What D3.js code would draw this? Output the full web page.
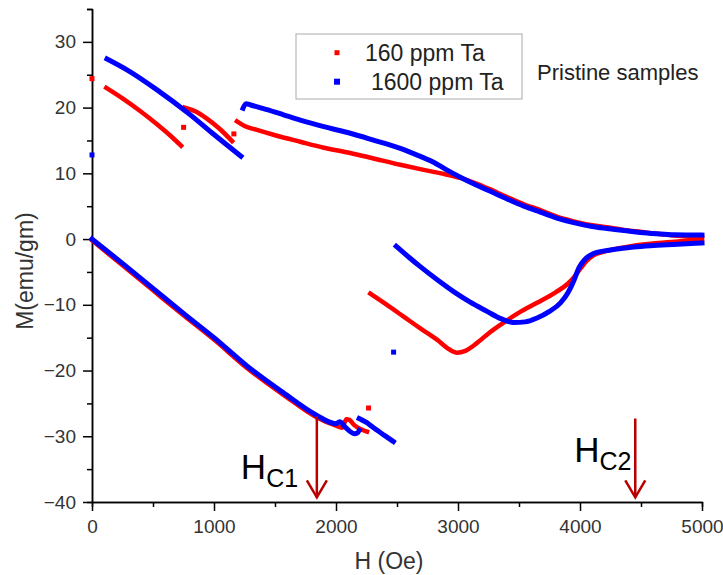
<!DOCTYPE html>
<html>
<head>
<meta charset="utf-8">
<script src="https://cdn.jsdelivr.net/npm/d3@7"></script>
<style>
    body { margin: 0; background: #fff; }
    text { font-family: "Liberation Sans", Arial, sans-serif; }
</style>
</head>
<body>
<div id="chart"></div>
<script>
// data: [H (Oe), M (emu/gm)]
var red160Upper1 = [[117, 23.0], [250, 21.4], [400, 19.4], [530, 17.5], [650, 15.6], [730, 14.2]];
var red160Upper2 = [[759, 20.0], [850, 19.4], [950, 18.2], [1050, 16.7], [1148, 14.9]];
var red160Upper3 = [[1188, 17.9], [1250, 17.2], [1352, 16.6], [1500, 15.8], [1707, 14.8], [1900, 13.9],
    [2117, 13.1], [2300, 12.3], [2527, 11.3], [2700, 10.6], [2860, 10.0], [3019, 9.3], [3128, 8.6],
    [3260, 7.6], [3402, 6.4], [3540, 5.3], [3675, 4.4], [3810, 3.4], [3948, 2.7], [4100, 2.1],
    [4221, 1.8], [4360, 1.4], [4494, 1.1], [4630, 0.8], [4767, 0.55], [4900, 0.35], [5000, 0.2]];
var red160Lower = [[0, -0.2], [250, -4.0], [500, -7.8], [750, -11.6], [1000, -15.3], [1270, -19.6],
    [1570, -23.7], [1840, -27.1], [2000, -28.4], [2050, -28.7], [2085, -27.4], [2110, -27.5],
    [2150, -28.3], [2200, -28.9], [2254, -29.3]];
var red160Middle = [[2281, -8.3], [2400, -9.8], [2554, -11.8], [2700, -13.7], [2828, -15.3], [2930, -16.8],
    [2992, -17.3], [3060, -17.0], [3156, -15.8], [3260, -14.2], [3374, -12.7], [3500, -11.2],
    [3648, -9.7], [3800, -8.1], [3900, -6.8], [3960, -5.6], [4003, -4.5], [4050, -3.4], [4100, -2.6],
    [4200, -1.9], [4320, -1.4], [4440, -1.0], [4580, -0.7], [4713, -0.5], [4850, -0.3], [5000, -0.1]];
var red160Dots = [[0, 24.4], [751, 17.0], [1163, 16.0], [2267, -25.7]];

var blue1600Upper1 = [[123, 27.4], [300, 25.6], [533, 22.7], [806, 18.9], [1000, 15.9], [1221, 12.6]];
var blue1600Upper2 = [[1238, 19.9], [1262, 20.6], [1300, 20.4], [1434, 19.7], [1570, 18.9], [1707, 18.1],
    [1900, 17.1], [2117, 16.1], [2300, 15.1], [2527, 13.8], [2700, 12.5], [2800, 11.7], [2900, 10.6],
    [3019, 9.4], [3128, 8.4], [3260, 7.3], [3402, 6.1], [3540, 5.0], [3675, 4.1], [3810, 3.2],
    [3948, 2.5], [4100, 1.9], [4221, 1.6], [4360, 1.3], [4494, 1.0], [4630, 0.8], [4767, 0.65], [5000, 0.6]];
var blue1600Lower1 = [[0, 0], [250, -3.7], [500, -7.5], [750, -11.3], [1000, -15.0], [1270, -19.3],
    [1570, -23.4], [1840, -26.8], [2000, -28.1], [2030, -27.8], [2080, -28.7], [2150, -29.6],
    [2175, -29.5], [2190, -29.1]];
var blue1600Lower2 = [[2190, -27.3], [2250, -27.9], [2300, -28.6], [2400, -29.9], [2470, -30.8]];
var blue1600Middle = [[2494, -1.1], [2600, -2.8], [2691, -4.2], [2830, -6.2], [2964, -8.0], [3100, -9.6],
    [3238, -11.0], [3350, -12.1], [3456, -12.7], [3550, -12.6], [3648, -12.0], [3750, -11.0],
    [3840, -9.7], [3900, -8.2], [3950, -6.3], [3990, -4.4], [4040, -3.1], [4112, -2.2], [4200, -1.8],
    [4303, -1.5], [4440, -1.2], [4577, -1.0], [4800, -0.8], [5000, -0.6]];
var blue1600Dots = [[0, 12.8], [2472, -17.2]];

var xMajorTicks = [0, 1000, 2000, 3000, 4000, 5000];
var xMinorTicks = [500, 1500, 2500, 3500, 4500];
var yMajorTicks = [-40, -30, -20, -10, 0, 10, 20, 30];
var yMinorTicks = [-35, -25, -15, -5, 5, 15, 25, 35];

var seriesNames = ["160 ppm Ta", "1600 ppm Ta"];
var seriesColors = ["#ff0000", "#0000ff"];

// critical field markers: subscript, H, M at arrow top
var hcNames = ["C1", "C2"];
var hcFields = [1843, 4453];
var hcTops = [-27.0, -27.3];

// set the dimensions and margins of the graph
var vMargin = { mTop: 9, mRight: 21, mBottom: 73, mLeft: 92 },
    vWidth = 723 - vMargin.mLeft - vMargin.mRight,
    vHeight = 575 - vMargin.mTop - vMargin.mBottom;

var svg = d3.select("#chart")
    .append("svg")
    .attr("width", 723)
    .attr("height", 575)
    .append("g")
    .attr("transform", "translate(" + vMargin.mLeft + "," + vMargin.mTop + ")");

var vX = d3.scaleLinear().domain([0, 5000]).range([0, vWidth]);
var vY = d3.scaleLinear().domain([-40, 35]).range([vHeight, 0]);

// axes
function styleAxis(aG) {
    aG.select(".domain").attr("stroke", "#000").attr("stroke-width", 1.5);
    aG.selectAll(".tick line").attr("stroke", "#000").attr("stroke-width", 1.5);
    aG.selectAll(".tick text")
        .attr("fill", "#333")
        .style("font-size", "19px")
        .style("font-family", "'Liberation Sans', Arial, sans-serif");
}

svg.append("g")
    .attr("transform", "translate(0," + vHeight + ")")
    .call(d3.axisBottom(vX).tickValues(xMinorTicks).tickSize(5).tickFormat(""))
    .call(styleAxis);
svg.append("g")
    .attr("transform", "translate(0," + vHeight + ")")
    .call(d3.axisBottom(vX).tickValues(xMajorTicks).tickSize(9).tickSizeOuter(0).tickPadding(9)
        .tickFormat(d3.format("d")))
    .call(styleAxis);

svg.append("g")
    .call(d3.axisLeft(vY).tickValues(yMinorTicks).tickSize(5).tickFormat(""))
    .call(styleAxis);
svg.append("g")
    .call(d3.axisLeft(vY).tickValues(yMajorTicks).tickSize(9).tickSizeOuter(0).tickPadding(7)
        .tickFormat(d3.format("d")))
    .call(styleAxis);

svg.append("text")
    .attr("x", vWidth / 2 - 8)
    .attr("y", vHeight + 67)
    .attr("text-anchor", "middle")
    .attr("fill", "#333")
    .style("font-size", "23px")
    .text("H (Oe)");

svg.append("text")
    .attr("transform", "rotate(-90)")
    .attr("x", -(vY(0) + 32))
    .attr("y", -59)
    .attr("text-anchor", "middle")
    .attr("fill", "#333")
    .style("font-size", "23px")
    .text("M(emu/gm)");

// data segments
var vLine = d3.line()
    .x(function (aItem) { return vX(aItem[0]); })
    .y(function (aItem) { return vY(aItem[1]); })
    .curve(d3.curveMonotoneX);

var vGroups = [
    [red160Upper1, red160Upper2, red160Upper3, red160Lower, red160Middle],
    [blue1600Upper1, blue1600Upper2, blue1600Lower1, blue1600Lower2, blue1600Middle]
];
var vDots = [red160Dots, blue1600Dots];

vGroups.forEach(function (aSegments, aIdx) {
    svg.append("g")
        .selectAll("path")
        .data(aSegments)
        .enter()
        .append("path")
            .attr("d", vLine)
            .attr("fill", "none")
            .attr("stroke", seriesColors[aIdx])
            .attr("stroke-width", aIdx === 0 ? 4.5 : 5)
            .attr("stroke-linecap", "square")
            .attr("stroke-linejoin", "round");
    svg.append("g")
        .selectAll("rect")
        .data(vDots[aIdx])
        .enter()
        .append("rect")
            .attr("x", function (aItem) { return vX(aItem[0]) - 2.5; })
            .attr("y", function (aItem) { return vY(aItem[1]) - 2.5; })
            .attr("width", 5)
            .attr("height", 5)
            .attr("fill", seriesColors[aIdx]);
});

// legend
var vLegend = svg.append("g").attr("transform", "translate(204,25)");
vLegend.append("rect")
    .attr("width", 226)
    .attr("height", 65)
    .attr("fill", "#fff")
    .attr("stroke", "#aaa")
    .attr("stroke-width", 1);
seriesNames.forEach(function (aName, aIdx) {
    var vSize = aIdx === 0 ? 5 : 6;
    vLegend.append("rect")
        .attr("x", 41 - vSize / 2)
        .attr("y", 18.7 + aIdx * 29 - vSize / 2)
        .attr("width", vSize)
        .attr("height", vSize)
        .attr("fill", seriesColors[aIdx]);
    vLegend.append("text")
        .attr("x", aIdx === 0 ? 69 : 75)
        .attr("y", 27 + aIdx * 29)
        .attr("fill", "#222")
        .style("font-size", "23px")
        .text(aName);
});

svg.append("text")
    .attr("x", 445)
    .attr("y", 71)
    .attr("fill", "#222")
    .style("font-size", "22px")
    .text("Pristine samples");

// critical field arrows and labels
var vArrowColor = "#b80000";
var vLabelShift = [[-76, -18], [-61, -35]];
hcNames.forEach(function (aName, aIdx) {
    var vAx = vX(hcFields[aIdx]);
    var vTop = vY(hcTops[aIdx]);
    var vBottom = vY(-39.3);
    svg.append("line")
        .attr("x1", vAx).attr("x2", vAx)
        .attr("y1", vTop).attr("y2", vBottom)
        .attr("stroke", vArrowColor)
        .attr("stroke-width", 2.5);
    svg.append("path")
        .attr("d", "M" + (vAx - 10) + "," + (vBottom - 17) + "L" + vAx + "," + vBottom + "L" + (vAx + 10) + "," + (vBottom - 17))
        .attr("fill", "none")
        .attr("stroke", vArrowColor)
        .attr("stroke-width", 2.5);
    var vLabel = svg.append("text")
        .attr("x", vAx + vLabelShift[aIdx][0])
        .attr("y", vBottom + vLabelShift[aIdx][1])
        .attr("fill", "#000")
        .style("font-size", "35px");
    vLabel.append("tspan").text("H");
    vLabel.append("tspan")
        .attr("dy", 8)
        .style("font-size", "25px")
        .text(aName);
});
</script>
</body>
</html>
